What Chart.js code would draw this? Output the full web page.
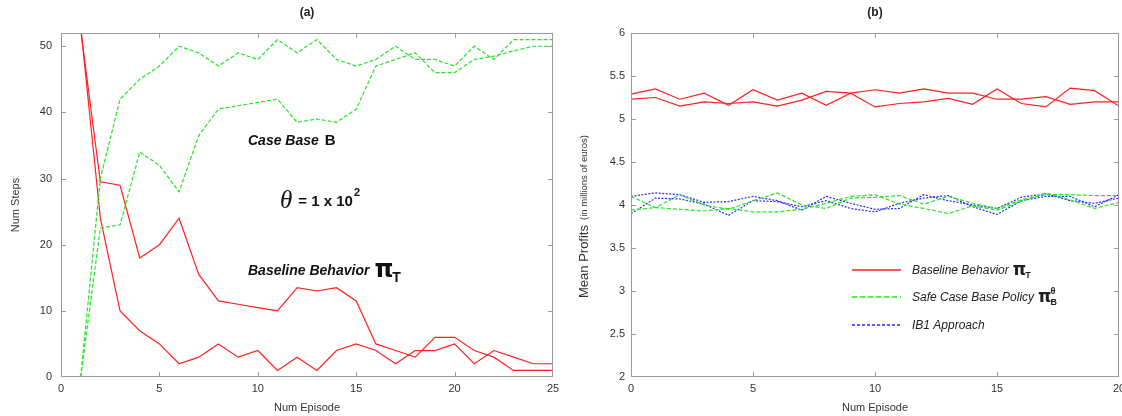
<!DOCTYPE html>
<html>
<head>
<meta charset="utf-8">
<script src="https://cdn.jsdelivr.net/npm/chart.js@4.4.1/dist/chart.umd.min.js"></script>
<style>
body { margin: 0; background: #fff; width: 1122px; height: 416px; overflow: hidden; position: relative; }
.box { position: absolute; top: 0; height: 416px; }
</style>
</head>
<body>
<div class="box" style="left:0;width:565px"><canvas id="chartA"></canvas></div>
<div class="box" style="left:565px;width:557px"><canvas id="chartB"></canvas></div>
<script>
// (a) num steps per episode
const episodesA = [1, 2, 3, 4, 5, 6, 7, 8, 9, 10, 11, 12, 13, 14, 15, 16, 17, 18, 19, 20, 21, 22, 23, 24, 25];
const baselineA1 = [52.5, 29.5, 29, 18, 20, 24, 15.5, 11.5, 11, 10.5, 10, 13.5, 13, 13.5, 11.5, 5, 4, 3, 6, 6, 4, 3, 1, 1, 1];
const baselineA2 = [53, 24, 10, 7, 5, 2, 3, 5, 3, 4, 1, 3, 1, 4, 5, 4, 2, 4, 4, 5, 2, 4, 3, 2, 2];
const caseBaseA1 = [0, 30, 42, 45, 47, 50, 49, 47, 49, 48, 51, 49, 51, 48, 47, 48, 50, 48, 48, 47, 50, 48, 51, 51, 51];
const caseBaseA2 = [0, 22.5, 23, 34, 32, 28, 36.5, 40.5, 41, 41.5, 42, 38.5, 39, 38.5, 40.5, 47, 48, 49, 46, 46, 48, 48.5, 49.3, 50, 50];

// (b) mean profits per episode
const episodesB = [0, 1, 2, 3, 4, 5, 6, 7, 8, 9, 10, 11, 12, 13, 14, 15, 16, 17, 18, 19, 20];
const baselineB1 = [5.29, 5.35, 5.23, 5.30, 5.16, 5.34, 5.22, 5.30, 5.16, 5.30, 5.14, 5.18, 5.20, 5.24, 5.17, 5.35, 5.18, 5.14, 5.36, 5.33, 5.15];
const baselineB2 = [5.23, 5.25, 5.15, 5.20, 5.18, 5.20, 5.15, 5.22, 5.32, 5.30, 5.34, 5.30, 5.35, 5.30, 5.30, 5.23, 5.23, 5.26, 5.17, 5.20, 5.20];
const safeB1 = [4.10, 3.97, 4.12, 4.00, 3.95, 4.05, 4.14, 4.00, 3.96, 4.08, 4.09, 4.11, 4.01, 4.10, 4.02, 3.96, 4.06, 4.12, 4.12, 4.11, 4.11];
const safeB2 = [3.94, 3.97, 3.95, 3.93, 3.96, 3.92, 3.92, 3.95, 4.02, 4.10, 4.12, 4.01, 3.96, 3.90, 3.99, 3.94, 4.04, 4.14, 4.06, 3.96, 4.03];
const ib1B1 = [4.10, 4.14, 4.12, 4.03, 4.04, 4.10, 4.05, 3.94, 4.10, 4.02, 3.95, 3.96, 4.12, 4.05, 4.00, 3.96, 4.09, 4.13, 4.05, 4.02, 4.08];
const ib1B2 = [3.90, 4.08, 4.07, 4.01, 3.88, 4.05, 4.04, 3.98, 4.05, 3.96, 3.92, 4.02, 4.08, 4.11, 3.98, 3.89, 4.05, 4.10, 4.10, 3.98, 4.12];

const RED = '#ff1f1f', GREEN = '#22e622', BLUE = '#2a2aff';
const SANS = '"Liberation Sans", Arial, sans-serif';

const pts = (xs, ys) => xs.map((x, i) => ({ x: x, y: ys[i] }));
const line = (xs, ys, color, dash) => ({
    data: pts(xs, ys), borderColor: color, borderWidth: 1.2, borderDash: dash,
    pointRadius: 0, tension: 0, fill: false
});

// gnuplot style box with inward ticks on all sides
const frame = {
    id: 'frame',
    afterDatasetsDraw(chart) {
        const { ctx, chartArea: a, scales: { x, y } } = chart;
        ctx.save();
        ctx.strokeStyle = '#9a9a9a';
        ctx.lineWidth = 1;
        ctx.strokeRect(a.left + 0.5, a.top + 0.5, a.right - a.left - 1, a.bottom - a.top - 1);
        ctx.beginPath();
        x.ticks.forEach(t => {
            const px = Math.round(x.getPixelForValue(t.value)) + 0.5;
            if (px < a.left + 2 || px > a.right - 2) return;
            ctx.moveTo(px, a.bottom); ctx.lineTo(px, a.bottom - 5);
            ctx.moveTo(px, a.top); ctx.lineTo(px, a.top + 5);
        });
        y.ticks.forEach(t => {
            const py = Math.round(y.getPixelForValue(t.value)) + 0.5;
            if (py < a.top + 2 || py > a.bottom - 2) return;
            ctx.moveTo(a.left, py); ctx.lineTo(a.left + 5, py);
            ctx.moveTo(a.right, py); ctx.lineTo(a.right - 5, py);
        });
        ctx.stroke();
        ctx.restore();
    }
};

function put(ctx, s, x, y, font) {
    ctx.font = font;
    ctx.fillText(s, x, y);
    return x + ctx.measureText(s).width;
}

function axisTitles(chart, title, xTitle) {
    const { ctx, chartArea: a } = chart;
    ctx.fillStyle = '#222';
    ctx.textBaseline = 'middle';
    ctx.textAlign = 'center';
    ctx.font = 'bold 12px ' + SANS;
    ctx.fillText(title, (a.left + a.right) / 2, 13);
    ctx.font = '11px ' + SANS;
    ctx.fillStyle = '#333';
    ctx.fillText(xTitle, (a.left + a.right) / 2, 408);
}

const notesA = {
    id: 'notesA',
    afterDraw(chart) {
        const { ctx } = chart;
        ctx.save();
        axisTitles(chart, '(a)', 'Num Episode');
        ctx.save();
        ctx.translate(16, 205);
        ctx.rotate(-Math.PI / 2);
        ctx.font = '11px ' + SANS;
        ctx.fillText('Num Steps', 0, 0);
        ctx.restore();

        ctx.fillStyle = '#111';
        ctx.textAlign = 'left';
        ctx.textBaseline = 'alphabetic';
        let x = put(ctx, 'Case Base', 248, 145, 'bold italic 14px ' + SANS);
        put(ctx, 'B', x + 6, 145, 'bold 15px ' + SANS);

        x = put(ctx, 'θ', 280, 208, 'italic 25px "Liberation Serif", serif');
        x = put(ctx, '= 1 x 10', x + 6, 206, 'bold 15px ' + SANS);
        put(ctx, '2', x + 1, 196, 'bold 11px ' + SANS);

        x = put(ctx, 'Baseline Behavior', 248, 275, 'bold italic 14px ' + SANS);
        x = put(ctx, 'π', x + 5, 277, 'bold 24px "DejaVu Sans", sans-serif');
        put(ctx, 'T', x - 1, 282, 'bold 14px ' + SANS);
        ctx.restore();
    }
};

const notesB = {
    id: 'notesB',
    afterDraw(chart) {
        const { ctx } = chart;
        ctx.save();
        axisTitles(chart, '(b)', 'Num Episode');

        ctx.save();
        ctx.translate(19, 298);
        ctx.rotate(-Math.PI / 2);
        ctx.textAlign = 'left';
        ctx.fillStyle = '#333';
        let w = put(ctx, 'Mean Profits', 0, 0, '13px ' + SANS);
        put(ctx, '(in millions of euros)', w + 5, 0, '9.5px ' + SANS);
        ctx.restore();

        // legend
        const rows = [
            { y: 270, color: RED, dash: [], label: 'Baseline Behavior', sub: 'T', sup: '' },
            { y: 297, color: GREEN, dash: [5, 3], label: 'Safe Case Base Policy', sub: 'B', sup: 'θ' },
            { y: 325, color: BLUE, dash: [3, 2], label: 'IB1 Approach', sub: '', sup: '' }
        ];
        ctx.textAlign = 'left';
        ctx.textBaseline = 'alphabetic';
        rows.forEach(r => {
            ctx.save();
            ctx.strokeStyle = r.color;
            ctx.lineWidth = 1.6;
            ctx.setLineDash(r.dash);
            ctx.beginPath();
            ctx.moveTo(287, r.y);
            ctx.lineTo(336, r.y);
            ctx.stroke();
            ctx.restore();
            ctx.fillStyle = '#222';
            let x = put(ctx, r.label, 347, r.y + 4, 'italic 12px ' + SANS);
            if (r.sub) {
                x = put(ctx, 'π', x + 4, r.y + 5, 'bold 17px "DejaVu Sans", sans-serif');
                put(ctx, r.sub, x - 1, r.y + 8, 'bold 9px ' + SANS);
                if (r.sup) put(ctx, r.sup, x - 1, r.y - 3, 'bold 9px ' + SANS);
            }
        });
        ctx.restore();
    }
};

function baseOptions(xMax, yMin, yMax, yStep, yAxisW, padRight, yPad) {
    const tickFont = { family: SANS, size: 11 };
    return {
        responsive: true,
        maintainAspectRatio: false,
        animation: false,
        layout: { autoPadding: false, padding: { left: 0, right: padRight, top: 33, bottom: 0 } },
        plugins: { legend: { display: false }, tooltip: { enabled: false } },
        scales: {
            x: {
                type: 'linear', min: 0, max: xMax,
                grid: { display: false, drawTicks: false, tickLength: 0 }, border: { display: false },
                ticks: { stepSize: 5, padding: 5, color: '#333', font: tickFont, maxRotation: 0 },
                afterFit: s => { s.height = 39; s.paddingLeft = 0; s.paddingRight = 0; }
            },
            y: {
                type: 'linear', min: yMin, max: yMax,
                grid: { display: false, drawTicks: false, tickLength: 0 }, border: { display: false },
                ticks: {
                    stepSize: yStep, includeBounds: false, padding: yPad, color: '#333', font: tickFont,
                    callback: v => String(Math.round(v * 10) / 10)
                },
                afterFit: s => { s.width = yAxisW; s.paddingTop = 0; s.paddingBottom = 0; }
            }
        }
    };
}

new Chart(document.getElementById('chartA'), {
    type: 'line',
    data: {
        datasets: [
            line(episodesA, caseBaseA1, GREEN, [4, 2]),
            line(episodesA, caseBaseA2, GREEN, [4, 2]),
            line(episodesA, baselineA1, RED, []),
            line(episodesA, baselineA2, RED, [])
        ]
    },
    options: baseOptions(25, 0, 52, 10, 61, 12, 9),
    plugins: [frame, notesA]
});

new Chart(document.getElementById('chartB'), {
    type: 'line',
    data: {
        datasets: [
            line(episodesB, baselineB1, RED, []),
            line(episodesB, baselineB2, RED, []),
            line(episodesB, safeB1, GREEN, [4, 2]),
            line(episodesB, safeB2, GREEN, [4, 2]),
            line(episodesB, ib1B1, BLUE, [2, 1.5]),
            line(episodesB, ib1B2, BLUE, [2, 1.5])
        ]
    },
    options: baseOptions(20, 2, 6, 0.5, 66, 3, 6),
    plugins: [frame, notesB]
});
</script>
</body>
</html>
